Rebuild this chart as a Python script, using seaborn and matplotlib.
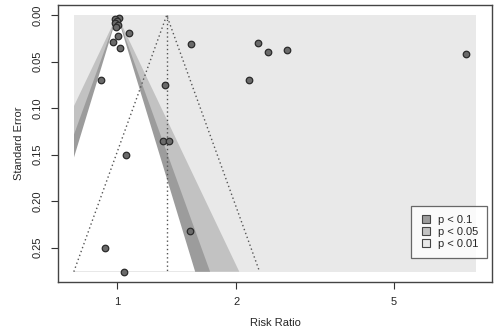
import numpy as np
import pandas as pd
import matplotlib
matplotlib.use("Agg")
import matplotlib.pyplot as plt
import seaborn as sns
from matplotlib.patches import Rectangle, Polygon
from matplotlib.lines import Line2D

# ---- data (risk ratio and its standard error, per study) ----
risk_ratio = [1.012, 0.990, 1.001, 0.990, 1.004, 0.995, 1.072, 1.004, 0.974, 1.018,
              1.534, 0.908, 1.321, 1.306, 1.350, 1.050, 2.272, 2.408, 2.693, 7.62,
              2.160, 1.525, 0.931, 1.038]
std_error = [0.0025, 0.0041, 0.0057, 0.0079, 0.0100, 0.0127, 0.0186, 0.0226, 0.0286, 0.0351,
             0.0312, 0.0692, 0.0754, 0.1356, 0.1349, 0.1499, 0.0294, 0.0394, 0.0369, 0.0416,
             0.0700, 0.2325, 0.2508, 0.2759]
pooled_rr = 1.334            # pooled estimate (dotted lines)
contour_levels = [0.10, 0.05, 0.01]
contour_z = [1.645, 1.960, 2.576]
contour_labels = ["p < 0.1", "p < 0.05", "p < 0.01"]
contour_colors = ["#9c9c9c", "#c2c2c2", "#e9e9e9"]
x_ticks = [1, 2, 5]
y_ticks = [0.00, 0.05, 0.10, 0.15, 0.20, 0.25]
x_range_rr = (0.778, 8.07)   # plotting region (risk ratio)

df = pd.DataFrame({"lnrr": np.log(risk_ratio), "se": std_error})

sns.set_style("white")
plt.rcParams["font.family"] = ["Liberation Sans", "DejaVu Sans"]

fig = plt.figure(figsize=(5.0, 3.31), dpi=100)
ax = fig.add_axes([58/500, 1-282/331, (492-58)/500, (282-5)/331])

xlo, xhi = np.log(x_range_rr[0]), np.log(x_range_rr[1])
ylo, yhi = 0.0, max(std_error)
dx = (xhi - xlo) * 0.04
dy = (yhi - ylo) * 0.04
ax.set_xlim(xlo - dx, xhi + dx)
ax.set_ylim(yhi + dy, ylo - dy)

# plot region background (p < 0.01 region)
region = Rectangle((xlo, ylo), xhi - xlo, yhi - ylo, facecolor=contour_colors[2],
                   edgecolor="none", zorder=0)
ax.add_patch(region)

# contour polygons (centered at RR = 1)
fills = [(contour_z[2], contour_colors[1]), (contour_z[1], contour_colors[0]), (contour_z[0], "white")]
for z, col in fills:
    poly = Polygon([(0, 0), (-z*yhi, yhi), (z*yhi, yhi)], closed=True, facecolor=col,
                   edgecolor="none", zorder=1)
    ax.add_patch(poly)
    poly.set_clip_path(region)

# dotted pooled-estimate funnel
c = np.log(pooled_rr)
ax.plot([c, c], [0, yhi], ls=(0, (1, 2)), color="#555555", lw=1, zorder=2)
ax.plot([c - 1.96*yhi, c, c + 1.96*yhi], [yhi, 0, yhi], ls=(0, (1, 2)), color="#555555", lw=1, zorder=2)

sns.scatterplot(data=df, x="lnrr", y="se", ax=ax, s=22, color="#6a6a6a",
                edgecolor="#2a2a2a", linewidth=0.9, zorder=3, legend=False)

ax.set_xticks(np.log(x_ticks))
ax.set_xticklabels([str(t) for t in x_ticks])
ax.set_yticks(y_ticks)
ax.set_yticklabels([f"{t:.2f}" for t in y_ticks], rotation=90, va="center")
ax.tick_params(axis="both", which="both", direction="out", length=5, width=0.8,
               color="#333333", labelsize=8, pad=6, bottom=True, left=True)
ax.set_xlabel("Risk Ratio", fontsize=8, labelpad=8)
ax.set_ylabel("Standard Error", fontsize=8, labelpad=6)
for sp in ax.spines.values():
    sp.set_visible(True)
    sp.set_color("#444444")
    sp.set_linewidth(1.0)

handles = [Line2D([], [], marker="s", ls="none", markersize=6, markerfacecolor=col,
                  markeredgecolor="#444444", markeredgewidth=0.8) for col in contour_colors]
leg = ax.legend(handles, contour_labels, loc="lower right",
                bbox_to_anchor=(487/500, 1-258/331), bbox_transform=fig.transFigure,
                fontsize=8, frameon=True, fancybox=False, handlelength=1.0,
                handletextpad=0.6, labelspacing=0.2, borderpad=0.8, borderaxespad=0)
leg.get_frame().set_edgecolor("#444444")
leg.get_frame().set_linewidth(0.9)
leg.get_frame().set_facecolor("white")

fig.savefig("out.png", dpi=100)
